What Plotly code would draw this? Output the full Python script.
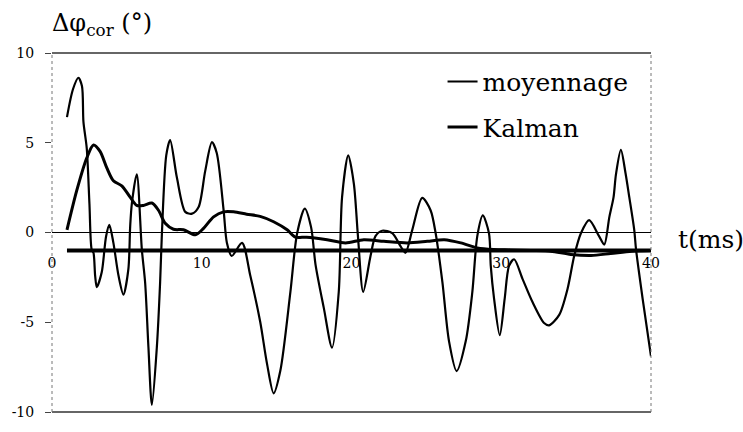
import plotly.graph_objects as go

# ---- data ----
t_moy = [1.0, 1.4, 1.76, 2.0, 2.1, 2.32, 2.5, 2.65, 2.77, 2.88, 2.99, 3.32, 3.61, 3.83, 4.1, 4.44, 4.77,
         5.1, 5.22, 5.33, 5.66, 6.0, 6.22, 6.44, 6.67, 7.0, 7.22, 7.34, 7.63, 7.89, 8.34, 8.9, 9.35, 9.79,
         10.23, 10.68, 11.0, 11.46, 11.68, 12.0, 12.69, 13.24, 13.9, 14.36, 14.8, 15.25, 15.92, 16.37,
         16.88, 17.3, 17.6, 18.15, 18.7, 19.15, 19.37, 19.78, 20.16, 20.43, 20.78, 21.27, 21.6, 22.05,
         22.72, 23.28, 23.6, 24.06, 24.72, 25.28, 25.62, 26.07, 26.51, 27.02, 27.63, 28.07, 28.4, 28.77,
         29.18, 29.3, 29.52, 29.9, 30.23, 30.52, 30.86, 31.42, 32.08, 32.86, 33.2, 33.87, 34.43, 34.87,
         35.32, 35.87, 36.54, 36.88, 37.22, 37.5, 37.66, 37.99, 38.3, 38.55, 38.88, 39.0, 39.44, 40.0]
y_moy = [6.43, 7.98, 8.62, 8.16, 6.16, 4.7, 1.6, -0.95, -1.13, -2.4, -3.04, -2.22, -0.22, 0.42, -0.58,
         -2.4, -3.46, -2.04, 0.33, 1.6, 3.24, -0.95, -2.8, -6.4, -9.6, -6.4, -2.77, -0.04, 4.3, 5.15,
         3.06, 1.15, 1.05, 1.42, 3.42, 5.03, 4.43, 1.24, -0.58, -1.31, -0.58, -2.4, -4.96, -7.32, -8.96,
         -7.69, -3.31, -0.04, 1.33, 0.3, -1.8, -4.2, -6.41, -3.3, 1.97, 4.3, 2.7, -0.2, -3.31, -1.31,
         -0.2, 0.1, -0.04, -0.77, -1.13, 0.15, 1.93, 1.24, -0.04, -2.77, -6.05, -7.72, -6.05, -3.31,
         -0.2, 0.95, -0.04, -1.86, -3.68, -5.72, -3.68, -1.86, -1.49, -2.58, -3.86, -5.04, -5.17, -4.59,
         -3.13, -1.31, -0.04, 0.69, -0.22, -0.67, 0.87, 1.97, 3.24, 4.6, 3.3, 1.97, 0.15, -0.94, -3.68, -6.9]

t_kal = [1.0, 1.65, 2.32, 2.77, 3.21, 3.66, 4.1, 4.66, 5.22, 5.66, 6.1, 6.67, 7.11, 7.56, 8.11, 8.78,
         9.57, 10.12, 10.79, 11.46, 12.13, 13.0, 13.9, 14.8, 15.7, 16.25, 17.0, 18.37, 19.6, 20.82,
         22.16, 23.72, 25.06, 26.2, 27.3, 28.4, 29.5, 30.6, 32.0, 33.3, 34.65, 36.0, 37.3, 38.7, 40.0]
y_kal = [0.15, 2.33, 4.15, 4.88, 4.52, 3.6, 2.88, 2.6, 1.97, 1.51, 1.51, 1.64, 1.24, 0.51, 0.18, 0.15,
         -0.13, 0.23, 0.87, 1.15, 1.15, 1.02, 0.9, 0.6, 0.15, -0.26, -0.26, -0.4, -0.58, -0.4,
         -0.49, -0.58, -0.49, -0.4, -0.58, -0.86, -0.95, -0.97, -1.0, -1.04, -1.22, -1.28, -1.17, -1.04, -1.0]

t_ref = [1.0, 40.0]
y_ref = [-1.0, -1.0]

x_ticks = [0, 10, 20, 30, 40]
y_ticks = [-10, -5, 0, 5, 10]

SERIF = "DejaVu Serif"

fig = go.Figure()
fig.add_trace(go.Scatter(x=t_moy, y=y_moy, mode="lines", name="moyennage", legendgroup="a",
                         line=dict(color="black", width=2.2, shape="spline", smoothing=0.8)))
fig.add_trace(go.Scatter(x=t_kal, y=y_kal, mode="lines", name="Kalman", legendgroup="b",
                         line=dict(color="black", width=3, shape="spline", smoothing=0.8)))
fig.add_trace(go.Scatter(x=t_ref, y=y_ref, mode="lines", showlegend=False,
                         line=dict(color="black", width=4)))

fig.update_layout(
    width=743, height=432,
    margin=dict(l=52, r=92, t=53, b=13),
    paper_bgcolor="white", plot_bgcolor="white",
    font=dict(family=SERIF, color="black"),
    showlegend=True,
    legend=dict(x=0.652, y=0.984, xanchor="left", yanchor="top",
                font=dict(family=SERIF, size=25, color="black"),
                bgcolor="rgba(0,0,0,0)", tracegroupgap=10, itemwidth=30),
    xaxis=dict(range=[0, 40], tickvals=x_ticks, ticktext=[str(v) for v in x_ticks],
               anchor="free", position=0.45, showline=False, showgrid=False, zeroline=False,
               ticks="", tickfont=dict(family=SERIF, size=14, color="black"), ticklabelstandoff=3),
    yaxis=dict(range=[-10, 10], tickvals=y_ticks, ticktext=[str(v) for v in y_ticks],
               showline=False, showgrid=False, zeroline=True, zerolinecolor="black", zerolinewidth=1,
               ticks="outside", ticklen=6, tickcolor="#444", tickwidth=1,
               tickfont=dict(family=SERIF, size=14, color="black"), ticklabelstandoff=8),
    shapes=[
        dict(type="line", xref="paper", yref="paper", x0=0, x1=1, y0=1, y1=1,
             line=dict(color="#333", width=1.3)),
        dict(type="line", xref="paper", yref="paper", x0=0, x1=1, y0=0, y1=0,
             line=dict(color="#333", width=1.3)),
        dict(type="line", xref="paper", yref="paper", x0=0, x1=0, y0=0, y1=1,
             line=dict(color="#777", width=1, dash="dot")),
        dict(type="line", xref="paper", yref="paper", x0=1, x1=1, y0=0, y1=1,
             line=dict(color="#777", width=1, dash="dot")),
    ],
    annotations=[
        dict(text="Δφ<sub>cor</sub> (°)", xref="paper", yref="paper", x=-0.003, y=1.03,
             xanchor="left", yanchor="bottom", showarrow=False,
             font=dict(family=SERIF, size=24, color="black")),
        dict(text="t(ms)", xref="paper", yref="y", x=1.042, y=-0.4,
             xanchor="left", yanchor="middle", showarrow=False,
             font=dict(family=SERIF, size=25, color="black")),
    ],
)

fig.write_html("out.html")
